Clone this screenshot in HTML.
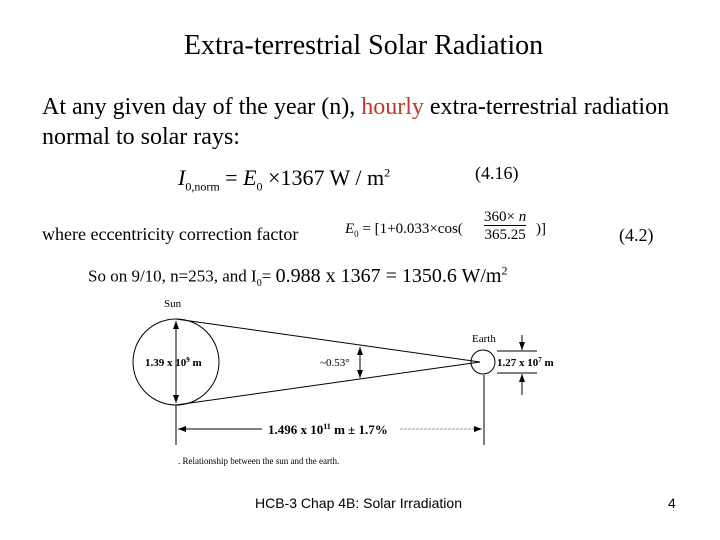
<!DOCTYPE html>
<html><head><meta charset="utf-8"><style>
body{margin:0;width:720px;height:540px;background:#fff;position:relative;overflow:hidden;font-family:"Liberation Serif",serif;color:#000}
.t{position:absolute;white-space:nowrap}
</style></head><body>
<div class="t" style="left:0;width:727px;text-align:center;top:30px;font-size:28px">Extra-terrestrial Solar Radiation</div>
<div class="t" style="left:42px;top:92px;font-size:24px;line-height:30px">At any given day of the year (n), <span style="color:#c0392b">hourly</span> extra-terrestrial radiation<br>normal to solar rays:</div>
<div class="t" style="left:178px;top:165px;font-size:22px"><i>I</i><sub style="font-size:12px">0,norm</sub> = <i>E</i><sub style="font-size:12px">0</sub> ×1367 W / m<sup style="font-size:12px">2</sup></div>
<div class="t" style="left:475px;top:163px;font-size:18px">(4.16)</div>
<div class="t" style="left:42px;top:224px;font-size:18px">where eccentricity correction factor</div>
<div class="t" style="left:345px;top:221px;font-size:15px"><i>E</i><sub style="font-size:9px">0</sub> = [1+0.033×cos(</div>
<div class="t" style="left:484px;top:208px;font-size:15px;text-align:center;line-height:18px"><span style="border-bottom:1px solid #000">360× <i>n</i></span><br>365.25</div>
<div class="t" style="left:536px;top:221px;font-size:15px">)]</div>
<div class="t" style="left:619px;top:225px;font-size:18px">(4.2)</div>
<div class="t" style="left:88px;top:263px;font-size:17px">So on 9/10, n=253, and I<sub style="font-size:10px">0</sub>= <span style="font-size:20px">0.988 x 1367 = 1350.6 W/m<sup style="font-size:12px">2</sup></span></div>
<svg style="position:absolute;left:0;top:0" width="720" height="540" font-family="Liberation Serif" font-size="12" font-weight="bold">
<defs><marker id="a" markerWidth="8" markerHeight="6" refX="8" refY="3" orient="auto"><path d="M0,0L8,3L0,6z"/></marker></defs>
<circle cx="176" cy="362" r="43" fill="none" stroke="#000"/>
<circle cx="483" cy="362" r="12" fill="none" stroke="#000"/>
<line x1="176" y1="319" x2="480" y2="362" stroke="#000"/>
<line x1="176" y1="405" x2="480" y2="362" stroke="#000"/>
<line x1="176" y1="362" x2="176" y2="321" stroke="#000" marker-end="url(#a)"/>
<line x1="176" y1="362" x2="176" y2="403" stroke="#000" marker-end="url(#a)"/>
<line x1="360" y1="362" x2="360" y2="347" stroke="#000" marker-end="url(#a)"/>
<line x1="360" y1="362" x2="360" y2="378" stroke="#000" marker-end="url(#a)"/>
<line x1="176" y1="405" x2="176" y2="445" stroke="#000"/>
<line x1="484" y1="375" x2="484" y2="445" stroke="#000"/>
<line x1="262" y1="429" x2="178" y2="429" stroke="#000" marker-end="url(#a)"/>
<line x1="400" y1="429" x2="482" y2="429" stroke="#999" stroke-dasharray="3,1" marker-end="url(#a)"/>
<line x1="497" y1="351" x2="537" y2="351" stroke="#000"/>
<line x1="497" y1="373" x2="537" y2="373" stroke="#000"/>
<line x1="522" y1="335" x2="522" y2="350" stroke="#000" marker-end="url(#a)"/>
<line x1="522" y1="395" x2="522" y2="374" stroke="#000" marker-end="url(#a)"/>
<text x="164" y="307" font-size="11" font-weight="normal">Sun</text>
<text x="472" y="342" font-size="11" font-weight="normal">Earth</text>
<text x="145" y="366" font-size="11">1.39 x 10<tspan dy="-4" font-size="7">9</tspan><tspan dy="4"> m</tspan></text>
<text x="320" y="366" font-size="11" font-weight="normal">~0.53°</text>
<text x="497" y="366" font-size="11">1.27 x 10<tspan dy="-4" font-size="7">7</tspan><tspan dy="4"> m</tspan></text>
<text x="268" y="434" font-size="13">1.496 x 10<tspan dy="-5" font-size="8">11</tspan><tspan dy="5"> m ± 1.7%</tspan></text>
<text x="178" y="464" font-size="9" font-weight="normal">. Relationship between the sun and the earth.</text>
</svg>
<div class="t" style="left:255px;top:495px;font-family:'Liberation Sans',sans-serif;font-size:14px">HCB-3 Chap 4B: Solar Irradiation</div>
<div class="t" style="left:668px;top:495px;font-family:'Liberation Sans',sans-serif;font-size:14px">4</div>
</body></html>
